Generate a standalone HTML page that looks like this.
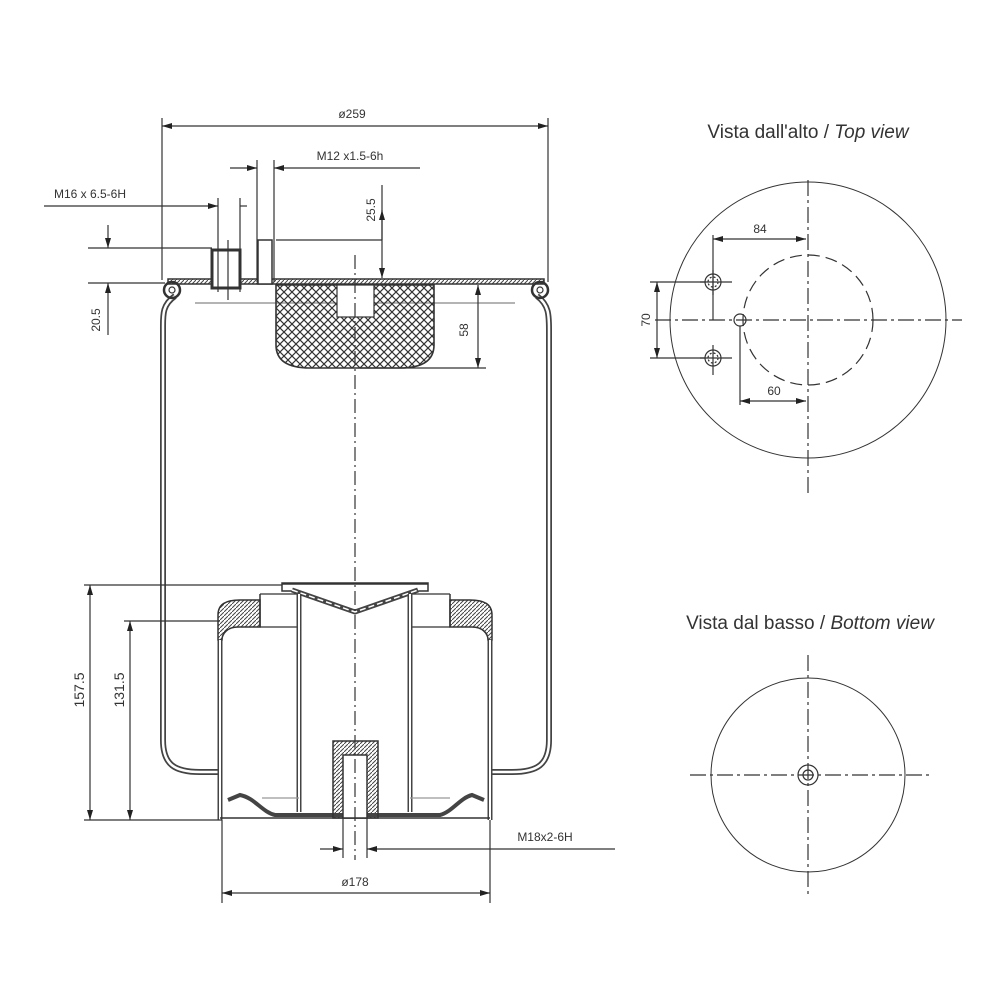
<!DOCTYPE html>
<html><head><meta charset="utf-8"><style>
html,body{margin:0;padding:0;background:#fff;}
svg{display:block;}
text{font-family:"Liberation Sans",sans-serif;fill:#333;}
</style></head><body>
<svg width="1000" height="1000" viewBox="0 0 1000 1000" xmlns="http://www.w3.org/2000/svg">
<defs>
<marker id="a" viewBox="0 0 10 6" refX="10" refY="3" markerWidth="10" markerHeight="6" orient="auto-start-reverse" markerUnits="userSpaceOnUse"><path d="M0,0 L10,3 L0,6 z" fill="#222"/></marker>
<pattern id="x" width="8" height="8" patternUnits="userSpaceOnUse"><path d="M0,0 L8,8 M8,0 L0,8" stroke="#333" stroke-width="1.2"/></pattern>
<pattern id="h" width="4" height="4" patternUnits="userSpaceOnUse"><path d="M0,4 L4,0" stroke="#444" stroke-width="1"/></pattern>
</defs>
<g fill="none" stroke="#333" stroke-width="1.2">
<!-- bellows -->
<path d="M175,296 C162,305 163,315 163,330 L163,740 C163,765 175,772 200,772 L220,772" stroke="#444" stroke-width="6"/>
<path d="M175,296 C162,305 163,315 163,330 L163,740 C163,765 175,772 200,772 L220,772" stroke="#fff" stroke-width="2.5"/>
<path d="M537,296 C549,305 549,315 549,330 L549,740 C549,765 537,772 512,772 L490,772" stroke="#444" stroke-width="6"/>
<path d="M537,296 C549,305 549,315 549,330 L549,740 C549,765 537,772 512,772 L490,772" stroke="#fff" stroke-width="2.5"/>
<!-- top plate -->
<rect x="168" y="279" width="376" height="5" fill="url(#h)" stroke="#333" stroke-width="1.5"/>
<circle cx="172" cy="290" r="8" stroke-width="2.5"/><circle cx="172" cy="290" r="3"/>
<circle cx="540" cy="290" r="8" stroke-width="2.5"/><circle cx="540" cy="290" r="3"/>
<line x1="195" y1="303" x2="515" y2="303" stroke="#888"/>
<!-- bumper -->
<path d="M276,285 L434,285 L434,345 C434,362 420,368 400,368 L310,368 C290,368 276,362 276,345 Z" fill="url(#x)" stroke-width="1.6"/>
<rect x="337" y="285" width="37" height="32" fill="#fff"/>
<!-- studs -->
<rect x="212" y="250" width="28" height="38" fill="#fff" stroke-width="3"/>
<line x1="228" y1="240" x2="228" y2="300"/>
<rect x="258" y="240" width="14" height="44" fill="#fff" stroke-width="1.5"/>
<!-- piston -->
<path d="M218,640 L218,615 C218,604 226,600 240,600 L260,600 L260,627 L238,627 C228,627 222,633 222,640 Z" fill="url(#h)" stroke-width="1.5"/>
<path d="M492,640 L492,615 C492,604 484,600 470,600 L450,600 L450,627 L472,627 C482,627 488,633 488,640 Z" fill="url(#h)" stroke-width="1.5"/>
<line x1="260" y1="594" x2="260" y2="627" stroke-width="1.5"/><line x1="450" y1="594" x2="450" y2="627" stroke-width="1.5"/>
<line x1="260" y1="594" x2="299" y2="594"/><line x1="410" y1="594" x2="450" y2="594"/>
<line x1="260" y1="627" x2="299" y2="627"/><line x1="410" y1="627" x2="450" y2="627"/>
<line x1="220" y1="640" x2="220" y2="820" stroke-width="5" stroke="#444"/>
<line x1="220" y1="640" x2="220" y2="820" stroke-width="2" stroke="#fff"/>
<line x1="490" y1="640" x2="490" y2="820" stroke-width="5" stroke="#444"/>
<line x1="490" y1="640" x2="490" y2="820" stroke-width="2" stroke="#fff"/>
<path d="M282,583 L428,583 L428,591 L419,591 L355,613 L291,591 L282,591 Z" fill="#fff" stroke-width="1.5"/>
<path d="M292,590 L355,612 L418,590" stroke="#444" stroke-width="5"/>
<path d="M292,590 L355,612 L418,590" stroke="#fff" stroke-width="1.5" stroke-dasharray="6,3"/>
<line x1="282" y1="584" x2="428" y2="584" stroke-width="1.5"/>
<line x1="299" y1="594" x2="299" y2="812" stroke="#444" stroke-width="5"/>
<line x1="299" y1="594" x2="299" y2="812" stroke="#fff" stroke-width="2"/>
<line x1="410" y1="594" x2="410" y2="812" stroke="#444" stroke-width="5"/>
<line x1="410" y1="594" x2="410" y2="812" stroke="#fff" stroke-width="2"/>
<path d="M228,800 L240,795 C255,798 262,812 275,815 L440,815 C452,812 460,798 472,795 L484,800" stroke="#444" stroke-width="4"/>
<line x1="220" y1="818" x2="490" y2="818" stroke-width="1.5"/>
<rect x="333" y="741" width="45" height="77" fill="url(#h)" stroke-width="1.5"/>
<rect x="343" y="755" width="24" height="63" fill="#fff" stroke-width="1.5"/>
<line x1="262" y1="798" x2="299" y2="798" stroke="#999"/><line x1="410" y1="798" x2="450" y2="798" stroke="#999"/>
<!-- centerline -->
<line x1="355" y1="255" x2="355" y2="860" stroke-dasharray="14,4,2,4"/>
<!-- dimensions -->
<line x1="162" y1="118" x2="162" y2="280"/><line x1="548" y1="118" x2="548" y2="282"/>
<line x1="162" y1="126" x2="548" y2="126" marker-start="url(#a)" marker-end="url(#a)"/>
<line x1="257" y1="160" x2="257" y2="282"/><line x1="274" y1="160" x2="274" y2="282"/>
<line x1="230" y1="168" x2="257" y2="168" marker-end="url(#a)"/><line x1="274" y1="168" x2="420" y2="168" marker-start="url(#a)"/>
<line x1="218" y1="198" x2="218" y2="292"/><line x1="240" y1="198" x2="240" y2="292"/>
<line x1="44" y1="206" x2="218" y2="206" marker-end="url(#a)"/><line x1="240" y1="206" x2="247" y2="206"/>
<line x1="382" y1="185" x2="382" y2="240" /><line x1="382" y1="240" x2="382" y2="278" marker-end="url(#a)"/>
<line x1="382" y1="210" x2="382" y2="240" marker-end="url(#a)" transform="rotate(180 382 225)"/>
<line x1="276" y1="240" x2="382" y2="240"/>
<line x1="88" y1="248" x2="212" y2="248"/><line x1="88" y1="283" x2="165" y2="283"/>
<line x1="108" y1="225" x2="108" y2="248" marker-end="url(#a)"/><line x1="108" y1="335" x2="108" y2="283" marker-end="url(#a)"/>
<line x1="478" y1="285" x2="478" y2="368" marker-start="url(#a)" marker-end="url(#a)"/>
<line x1="360" y1="368" x2="486" y2="368"/>
<line x1="84" y1="585" x2="282" y2="585"/><line x1="84" y1="820" x2="222" y2="820"/>
<line x1="90" y1="585" x2="90" y2="820" marker-start="url(#a)" marker-end="url(#a)"/>
<line x1="124" y1="621" x2="220" y2="621"/>
<line x1="130" y1="621" x2="130" y2="820" marker-start="url(#a)" marker-end="url(#a)"/>
<line x1="343" y1="818" x2="343" y2="858"/><line x1="367" y1="818" x2="367" y2="858"/>
<line x1="320" y1="849" x2="343" y2="849" marker-end="url(#a)"/><line x1="367" y1="849" x2="615" y2="849" marker-start="url(#a)"/>
<line x1="222" y1="820" x2="222" y2="903"/><line x1="490" y1="820" x2="490" y2="903"/>
<line x1="222" y1="893" x2="490" y2="893" marker-start="url(#a)" marker-end="url(#a)"/>
<!-- top view -->
<circle cx="808" cy="320" r="138" stroke-width="1"/>
<circle cx="808" cy="320" r="65" stroke-dasharray="12,6"/>
<line x1="655" y1="320" x2="962" y2="320" stroke-dasharray="16,4,3,4"/>
<line x1="808" y1="180" x2="808" y2="497" stroke-dasharray="16,4,3,4"/>
<circle cx="713" cy="282" r="8"/><circle cx="713" cy="282" r="5" stroke-dasharray="2,2"/>
<circle cx="713" cy="358" r="8"/><circle cx="713" cy="358" r="5" stroke-dasharray="2,2"/>
<line x1="700" y1="282" x2="732" y2="282"/><line x1="713" y1="270" x2="713" y2="295"/>
<line x1="700" y1="358" x2="732" y2="358"/><line x1="713" y1="345" x2="713" y2="375"/>
<circle cx="740" cy="320" r="6"/>
<line x1="713" y1="235" x2="713" y2="320"/>
<line x1="713" y1="239" x2="806" y2="239" marker-start="url(#a)" marker-end="url(#a)"/>
<line x1="650" y1="282" x2="705" y2="282"/><line x1="650" y1="358" x2="705" y2="358"/>
<line x1="657" y1="282" x2="657" y2="358" marker-start="url(#a)" marker-end="url(#a)"/>
<line x1="740" y1="326" x2="740" y2="405"/>
<line x1="740" y1="401" x2="806" y2="401" marker-start="url(#a)" marker-end="url(#a)"/>
<!-- bottom view -->
<circle cx="808" cy="775" r="97" stroke-width="1"/>
<circle cx="808" cy="775" r="10"/><circle cx="808" cy="775" r="5"/>
<line x1="690" y1="775" x2="930" y2="775" stroke-dasharray="16,4,3,4"/>
<line x1="808" y1="655" x2="808" y2="895" stroke-dasharray="16,4,3,4"/>
</g>
<g font-size="12">
<text x="352" y="118" text-anchor="middle">ø259</text>
<text x="350" y="160" text-anchor="middle">M12 x1.5-6h</text>
<text x="90" y="198" text-anchor="middle">M16 x 6.5-6H</text>
<text transform="translate(375,210) rotate(-90)" text-anchor="middle">25.5</text>
<text transform="translate(100,320) rotate(-90)" text-anchor="middle">20.5</text>
<text transform="translate(468,330) rotate(-90)" text-anchor="middle">58</text>
<text transform="translate(84,690) rotate(-90)" text-anchor="middle" font-size="14">157.5</text>
<text transform="translate(124,690) rotate(-90)" text-anchor="middle" font-size="14">131.5</text>
<text x="545" y="841" text-anchor="middle">M18x2-6H</text>
<text x="355" y="886" text-anchor="middle">ø178</text>
<text x="760" y="233" text-anchor="middle">84</text>
<text transform="translate(650,320) rotate(-90)" text-anchor="middle">70</text>
<text x="774" y="395" text-anchor="middle">60</text>
</g>
<text x="808" y="138" text-anchor="middle" font-size="19">Vista dall'alto / <tspan font-style="italic">Top view</tspan></text>
<text x="810" y="629" text-anchor="middle" font-size="19">Vista dal basso / <tspan font-style="italic">Bottom view</tspan></text>
</svg>
</body></html>
